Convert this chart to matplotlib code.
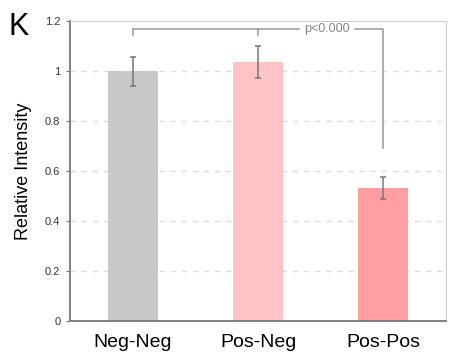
import matplotlib.pyplot as plt

plt.rcParams['font.family'] = ['Liberation Sans', 'DejaVu Sans']

# Data
groups = ['Neg-Neg', 'Pos-Neg', 'Pos-Pos']
means = [1.0, 1.035, 0.532]
errors = [0.058, 0.064, 0.044]
bar_colors = ['#c8c8c8', '#ffc3c6', '#ff9fa2']
y_ticks = [0, 0.2, 0.4, 0.6, 0.8, 1.0, 1.2]
y_tick_labels = ['0', '0.2', '0.4', '0.6', '0.8', '1', '1.2']

fig = plt.figure(figsize=(4.5, 3.6), dpi=100)
ax = fig.add_axes([0.1556, 0.1083, 0.8356, 0.8333])

x = range(len(groups))
ax.bar(x, means, width=0.4, color=bar_colors, zorder=2)
ax.errorbar(x, means, yerr=errors, fmt='none', ecolor='#777777',
            elinewidth=1.1, capsize=2.5, capthick=1.1, zorder=3)

ax.set_xlim(-0.5, 2.5)
ax.set_ylim(0, 1.2)
ax.set_yticks(y_ticks)
ax.set_yticklabels(y_tick_labels, fontsize=8, color='#333333')
ax.set_xticks(list(x))
ax.set_xticklabels(groups, fontsize=14)
ax.tick_params(axis='x', length=0, pad=9)
ax.tick_params(axis='y', length=3, color='#777777', pad=4)
ax.set_ylabel('Relative Intensity', fontsize=13, labelpad=9)

# dashed grid lines (except the top)
for yv in y_ticks[1:-1]:
    ax.axhline(yv, color='#dddddd', linestyle=(0, (4, 4)), linewidth=1, zorder=1)

ax.spines['left'].set_color('#777777')
ax.spines['bottom'].set_color('#777777')
ax.spines['left'].set_linewidth(1.3)
ax.spines['bottom'].set_linewidth(1.3)
ax.spines['top'].set_color('#cccccc')
ax.spines['right'].set_color('#cccccc')

# significance bracket
br = '#999999'
y_br = 1.168
ax.plot([0, 0], [1.144, y_br], color=br, lw=1.1)
ax.plot([1, 1], [1.144, y_br], color=br, lw=1.1)
ax.plot([0, 1.33], [y_br, y_br], color=br, lw=1.1)
ax.plot([1.77, 2, 2], [y_br, y_br, 0.692], color=br, lw=1.1)
ax.text(1.55, y_br, 'p<0.000', ha='center', va='center', fontsize=9, color='#888888')

fig.text(0.018, 0.968, 'K', fontsize=22, va='top', ha='left')

fig.savefig('out.png', dpi=100)
